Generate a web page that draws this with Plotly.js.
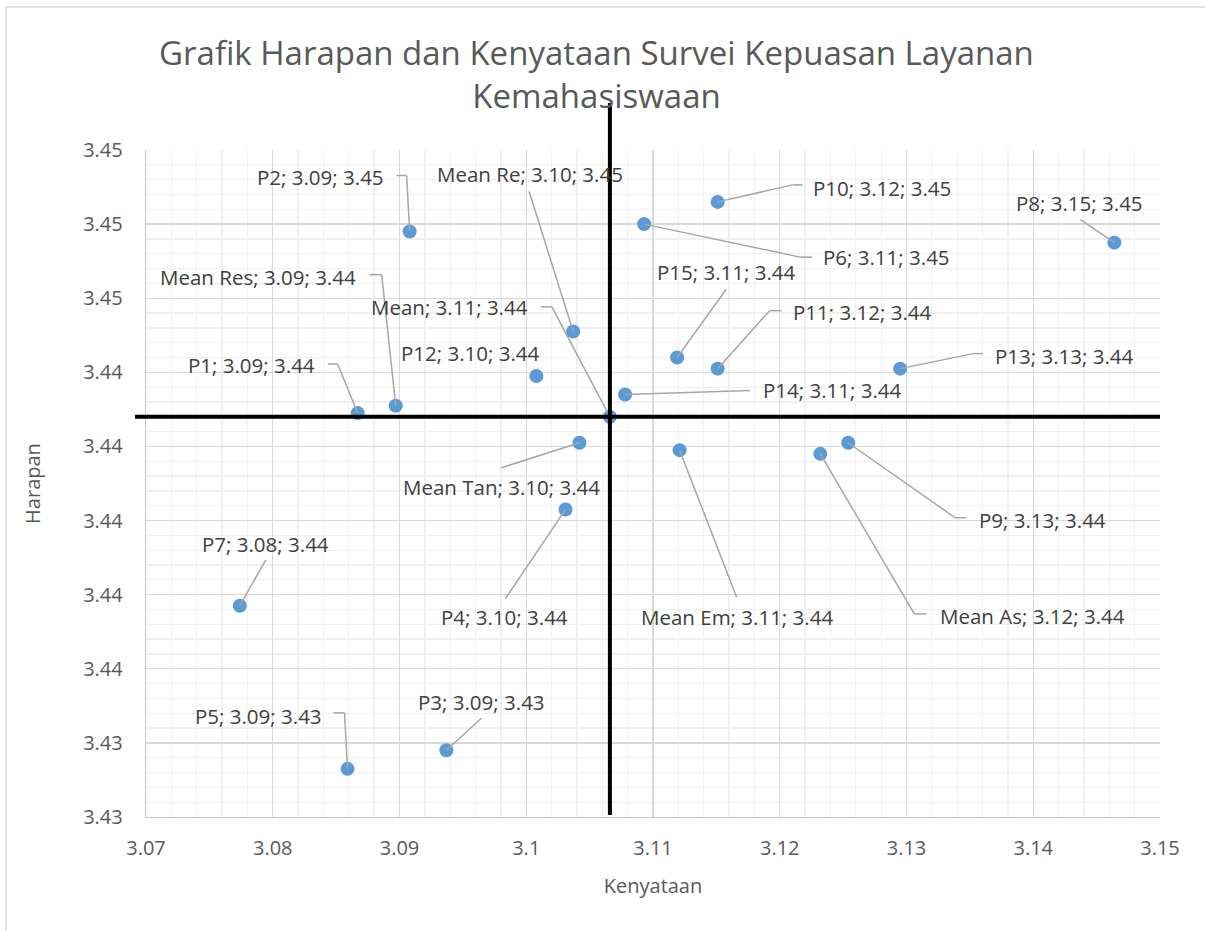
<!DOCTYPE html>
<html>
<head>
<meta charset="utf-8">
<script src="https://cdn.plot.ly/plotly-3.0.1.min.js"></script>
<style>html,body{margin:0;padding:0;background:#fff;}#chart{width:1205px;height:931px;}</style>
</head>
<body>
<div id="chart"></div>
<script>
// Data
var names = ["P2","Mean Re","P10","P8","P6","Mean Res","P15","Mean","P11","P12","P13","P1","P14","Mean Tan","P9","P7","P4","Mean Em","Mean As","P3","P5"];
var kenyataan = [3.0908,3.1037,3.1151,3.1464,3.1093,3.0897,3.1119,3.1066,3.1151,3.1008,3.1295,3.0867,3.1078,3.1042,3.1254,3.0774,3.1031,3.1121,3.1232,3.0937,3.0859];
var harapan = [3.4478,3.4451,3.4486,3.4475,3.4480,3.4431,3.4444,3.4428,3.4441,3.4439,3.4441,3.4429,3.4434,3.4421,3.4421,3.4377,3.4403,3.4419,3.4418,3.4338,3.4333];

// Label placement (pixel offsets from each point, screen y downward)
var labelDX = [-89,-43,164,-35,242,-138,49,-160,145,-66,164,-106,207,-78,194,26,-61,57,212,35,-89];
var labelDY = [-55,-158,-14,-40,33,-129,-86,-110,-57,-23,-13,-48,-5,44,77,-62,108,167,162,-48,-53];
// Leader line: point -> elbow (EX,EY) -> optional horizontal end (HX); null = no leader
var leadEX = [-3,-44,75,-34,156,-14,49,-58,52,null,73,-20,125,-78,107,26,-60,57,94,35,-3];
var leadEY = [-56,-140,-17,-23,33,-131,-68,-110,-58,null,-15,-49,-4,25,75,-46,89,147,160,-32,-56];
var leadHX = [-13,null,85,null,168,-26,null,-69,64,null,83,-30,null,null,118,null,null,null,106,null,-14];

var meanIdx = names.indexOf("Mean");
var labels = names.map(function(n,i){return n+"; "+kenyataan[i].toFixed(2)+"; "+harapan[i].toFixed(2);});

var trace = {
  type: "scatter", mode: "markers",
  x: kenyataan, y: harapan, text: labels,
  marker: {color: "#5B9BD5", size: 14},
  hoverinfo: "text", showlegend: false
};

var labelFont = {family: "Open Sans, sans-serif", size: 20.5, color: "#404040"};
var annotations = labels.map(function(t,i){
  return {x: kenyataan[i], y: harapan[i], xref: "x", yref: "y", text: t,
    showarrow: false, xshift: labelDX[i], yshift: -labelDY[i],
    xanchor: "center", yanchor: "middle", font: labelFont};
});

var leaderStyle = {color: "#a6a6a6", width: 1.5};
var shapes = [
  {type: "rect", xref: "paper", yref: "paper", x0: -0.138, x1: 1.1, y0: -0.3, y1: 1.2144,
   line: {color: "#d9d9d9", width: 1.5}, fillcolor: "rgba(0,0,0,0)", layer: "below"}
];
names.forEach(function(n,i){
  if (leadEX[i] === null) return;
  shapes.push({type: "line", xref: "x", yref: "y", xsizemode: "pixel", ysizemode: "pixel",
    xanchor: kenyataan[i], yanchor: harapan[i], x0: 0, y0: 0, x1: leadEX[i], y1: -leadEY[i],
    line: leaderStyle, layer: "above"});
  if (leadHX[i] !== null) {
    shapes.push({type: "line", xref: "x", yref: "y", xsizemode: "pixel", ysizemode: "pixel",
      xanchor: kenyataan[i], yanchor: harapan[i], x0: leadEX[i], y0: -leadEY[i], x1: leadHX[i], y1: -leadEY[i],
      line: leaderStyle, layer: "above"});
  }
});
shapes.push(
  {type: "line", xref: "x", yref: "paper", x0: kenyataan[meanIdx], x1: kenyataan[meanIdx], y0: 0.003, y1: 1.0705,
   line: {color: "#000", width: 4}},
  {type: "line", xref: "paper", yref: "y", x0: -0.0108, x1: 1.0, y0: harapan[meanIdx], y1: harapan[meanIdx],
   line: {color: "#000", width: 4}}
);

var axFont = {family: "Open Sans, sans-serif", size: 20, color: "#595959"};
var layout = {
  width: 1205, height: 931,
  margin: {l: 146, r: 45, t: 150, b: 114},
  paper_bgcolor: "#fff", plot_bgcolor: "#fff",
  title: {text: "Grafik Harapan dan Kenyataan Survei Kepuasan Layanan<br>Kemahasiswaan",
    x: 0.495, xref: "container", xanchor: "center", y: 0.93, yref: "container", yanchor: "top",
    font: {family: "Open Sans, sans-serif", size: 33, color: "#595959"}},
  xaxis: {range: [3.07, 3.15], tick0: 3.07, dtick: 0.01, tickmode: "linear",
    showgrid: true, gridcolor: "#d9d9d9", gridwidth: 1.3,
    minor: {dtick: 0.002, showgrid: true, gridcolor: "#f0f0f0", gridwidth: 1.3},
    zeroline: false, showline: true, linecolor: "#c8c8c8", linewidth: 1.3,
    ticks: "", ticklabelstandoff: 13,
    tickfont: axFont,
    title: {text: "Kenyataan", font: {family: "Open Sans, sans-serif", size: 20, color: "#595959"}, standoff: 18}},
  yaxis: {range: [3.432, 3.45], tick0: 3.432, dtick: 0.002, tickmode: "linear", tickformat: ".2f",
    showgrid: true, gridcolor: "#d9d9d9", gridwidth: 1.3,
    minor: {dtick: 0.0004, showgrid: true, gridcolor: "#f0f0f0", gridwidth: 1.3},
    zeroline: false, showline: true, linecolor: "#c8c8c8", linewidth: 1.3,
    ticks: "", ticklabelstandoff: 18,
    tickfont: axFont,
    title: {text: "Harapan", font: {family: "Open Sans, sans-serif", size: 20, color: "#595959"}, standoff: 37}},
  annotations: annotations,
  shapes: shapes
};

Plotly.newPlot("chart", [trace], layout, {displayModeBar: false, staticPlot: true});
</script>
</body>
</html>
